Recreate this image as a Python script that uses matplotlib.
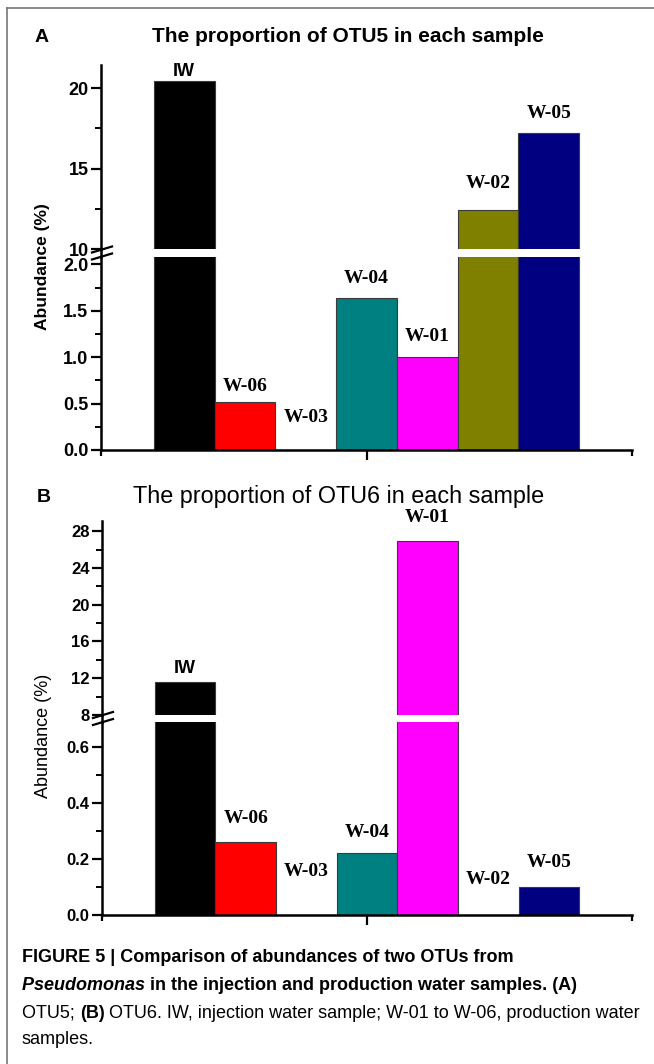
import matplotlib
matplotlib.use('Agg')
import matplotlib.pyplot as plt
from matplotlib.lines import Line2D

# data (abundance in %)
samples = ['IW', 'W-06', 'W-03', 'W-04', 'W-01', 'W-02', 'W-05']
bar_colors = ['#000000', '#ff0000', '#ffffff', '#008080', '#ff00ff', '#808000', '#000080']
otu5 = [20.45, 0.52, 0.0, 1.64, 1.0, 12.45, 17.2]
otu6 = [11.55, 0.26, 0.0, 0.22, 26.9, 0.0, 0.10]

# axis ranges and ticks of the broken axes
a_low_lim, a_up_lim = (0, 2.08), (10, 21.45)
a_low_ticks, a_up_ticks = [0.0, 0.5, 1.0, 1.5, 2.0], [10, 15, 20]
a_low_minor, a_up_minor = [0.25, 0.75, 1.25, 1.75], [12.5, 17.5]
a_low_labels = ['0.0', '0.5', '1.0', '1.5', '2.0']
a_up_labels = ['10', '15', '20']

b_low_lim, b_up_lim = (0, 0.69), (8, 29.1)
b_low_ticks, b_up_ticks = [0.0, 0.2, 0.4, 0.6], [8, 12, 16, 20, 24, 28]
b_low_minor, b_up_minor = [0.1, 0.3, 0.5], [10, 14, 18, 22, 26]
b_low_labels = ['0.0', '0.2', '0.4', '0.6']
b_up_labels = ['8', '12', '16', '20', '24', '28']

W, H = 654, 1064
SANS = 'Liberation Sans'
SERIF = 'Liberation Serif'

fig = plt.figure(figsize=(W / 100, H / 100), dpi=100)


def fx(x):
    return x / W


def fy(y):
    return 1 - y / H


def rect(x0, x1, y0, y1):
    # pixel box (top y0, bottom y1) -> figure fraction rect
    return [fx(x0), fy(y1), (x1 - x0) / W, (y1 - y0) / H]


XLIM = (-1.37, 7.37)


def style_axis(ax, lim, ticks, minor, labels, fsize):
    ax.set_ylim(*lim)
    ax.set_xlim(*XLIM)
    ax.set_yticks(ticks)
    ax.set_yticks(minor, minor=True)
    ax.set_yticklabels(labels, fontfamily=SANS, fontweight='bold', fontsize=fsize)
    ax.tick_params(axis='y', which='major', direction='out', length=7, width=1.6, pad=2)
    ax.tick_params(axis='y', which='minor', direction='out', length=4, width=1.4)
    ax.spines['left'].set_linewidth(1.8)
    for s in ['top', 'right']:
        ax.spines[s].set_visible(False)
    ax.patch.set_alpha(0)


def panel(values, box_up, box_low, lims, label_offsets, fsize):
    ax_up = fig.add_axes(rect(*box_up))
    ax_low = fig.add_axes(rect(*box_low))
    x = list(range(len(values)))
    for ax in (ax_up, ax_low):
        ax.bar(x, values, width=1.0, color=bar_colors, edgecolor='#3a3a3a', linewidth=0.8)
    (low_lim, up_lim, low_t, up_t, low_m, up_m, low_l, up_l) = lims
    style_axis(ax_low, low_lim, low_t, low_m, low_l, fsize)
    style_axis(ax_up, up_lim, up_t, up_m, up_l, fsize)
    ax_up.spines['bottom'].set_visible(False)
    ax_up.set_xticks([])
    ax_low.spines['bottom'].set_linewidth(1.8)
    ax_low.set_xticks([3])
    ax_low.set_xticklabels([])
    ax_low.set_xticks(list(XLIM), minor=True)
    ax_low.tick_params(axis='x', which='major', direction='out', length=7, width=1.6)
    ax_low.tick_params(axis='x', which='minor', direction='out', length=4, width=1.6)

    # bar labels
    for i, (name, v) in enumerate(zip(samples, values)):
        ax = ax_up if v > low_lim[1] else ax_low
        fam = SANS if name == 'IW' else SERIF
        ax.annotate(name, (i, v), xytext=(0, label_offsets[i]), textcoords='offset pixels',
                    ha='center', va='center', fontfamily=fam, fontweight='bold',
                    fontsize=14 if fam == SERIF else 13, annotation_clip=False)
    return ax_up, ax_low


def axis_break(xs, y_top, y_bot):
    # continue the y spine through the gap and draw the two slashes
    fig.add_artist(Line2D([fx(xs), fx(xs)], [fy(y_top), fy(y_bot)], color='black', lw=1.8))
    yc = (y_top + y_bot) / 2
    for dy in (-3.5, 3.5):
        fig.add_artist(Line2D([fx(xs - 9), fx(xs + 11)], [fy(yc + dy + 3), fy(yc + dy - 3)],
                              color='black', lw=1.6))


# panel A
panel(otu5, (101, 632, 65, 249), (101, 632, 257, 450),
      (a_low_lim, a_up_lim, a_low_ticks, a_up_ticks, a_low_minor, a_up_minor, a_low_labels, a_up_labels),
      [10, 15, 32, 19, 21, 26, 20], 13)
axis_break(101, 249, 257)
fig.text(fx(42), fy(37), 'A', fontfamily=SANS, fontweight='bold', fontsize=14, ha='center', va='center')
fig.text(fx(152), fy(36), 'The proportion of OTU5 in each sample', fontfamily=SANS,
         fontweight='bold', fontsize=15, ha='left', va='center')
fig.text(fx(43), fy(267), 'Abundance (%)', fontfamily=SANS, fontweight='bold', fontsize=12.5,
         rotation=90, ha='center', va='center')

# panel B
panel(otu6, (102, 632, 521, 715), (102, 632, 722, 915),
      (b_low_lim, b_up_lim, b_low_ticks, b_up_ticks, b_low_minor, b_up_minor, b_low_labels, b_up_labels),
      [14, 24, 43, 21, 24, 35, 25], 12)
axis_break(102, 715, 722)
fig.text(fx(44), fy(497), 'B', fontfamily=SANS, fontweight='bold', fontsize=14, ha='center', va='center')
fig.text(fx(133), fy(497), 'The proportion of OTU6 in each sample', fontfamily=SANS,
         fontsize=16.8, ha='left', va='center')
fig.text(fx(43), fy(736), 'Abundance (%)', fontfamily=SANS, fontsize=13,
         rotation=90, ha='center', va='center')

# frame lines (top and left) of the figure box
fig.add_artist(Line2D([fx(7), 1], [fy(8), fy(8)], color='#777777', lw=1.2))
fig.add_artist(Line2D([fx(7), fx(7)], [fy(8), 0], color='#777777', lw=1.2))

# caption, drawn piece by piece to mix bold / italic
caption = [
    (957, [('FIGURE 5 | Comparison of abundances of two OTUs from', 'bold', 'normal')]),
    (985, [('Pseudomonas ', 'bold', 'italic'),
           ('in the injection and production water samples. (A)', 'bold', 'normal')]),
    (1013, [('OTU5; ', 'normal', 'normal'), ('(B)', 'bold', 'normal'),
            (' OTU6. IW, injection water sample; W-01 to W-06, production water', 'normal', 'normal')]),
    (1040, [('samples.', 'normal', 'normal')]),
]
renderer = fig.canvas.get_renderer()
for y, pieces in caption:
    x = fx(22)
    for s, w, st in pieces:
        t = fig.text(x, fy(y), s, fontfamily=SANS, fontweight=w, fontstyle=st,
                     fontsize=13, ha='left', va='center')
        bb = t.get_window_extent(renderer)
        x = bb.x1 / W

fig.savefig('out.png', dpi=100)
